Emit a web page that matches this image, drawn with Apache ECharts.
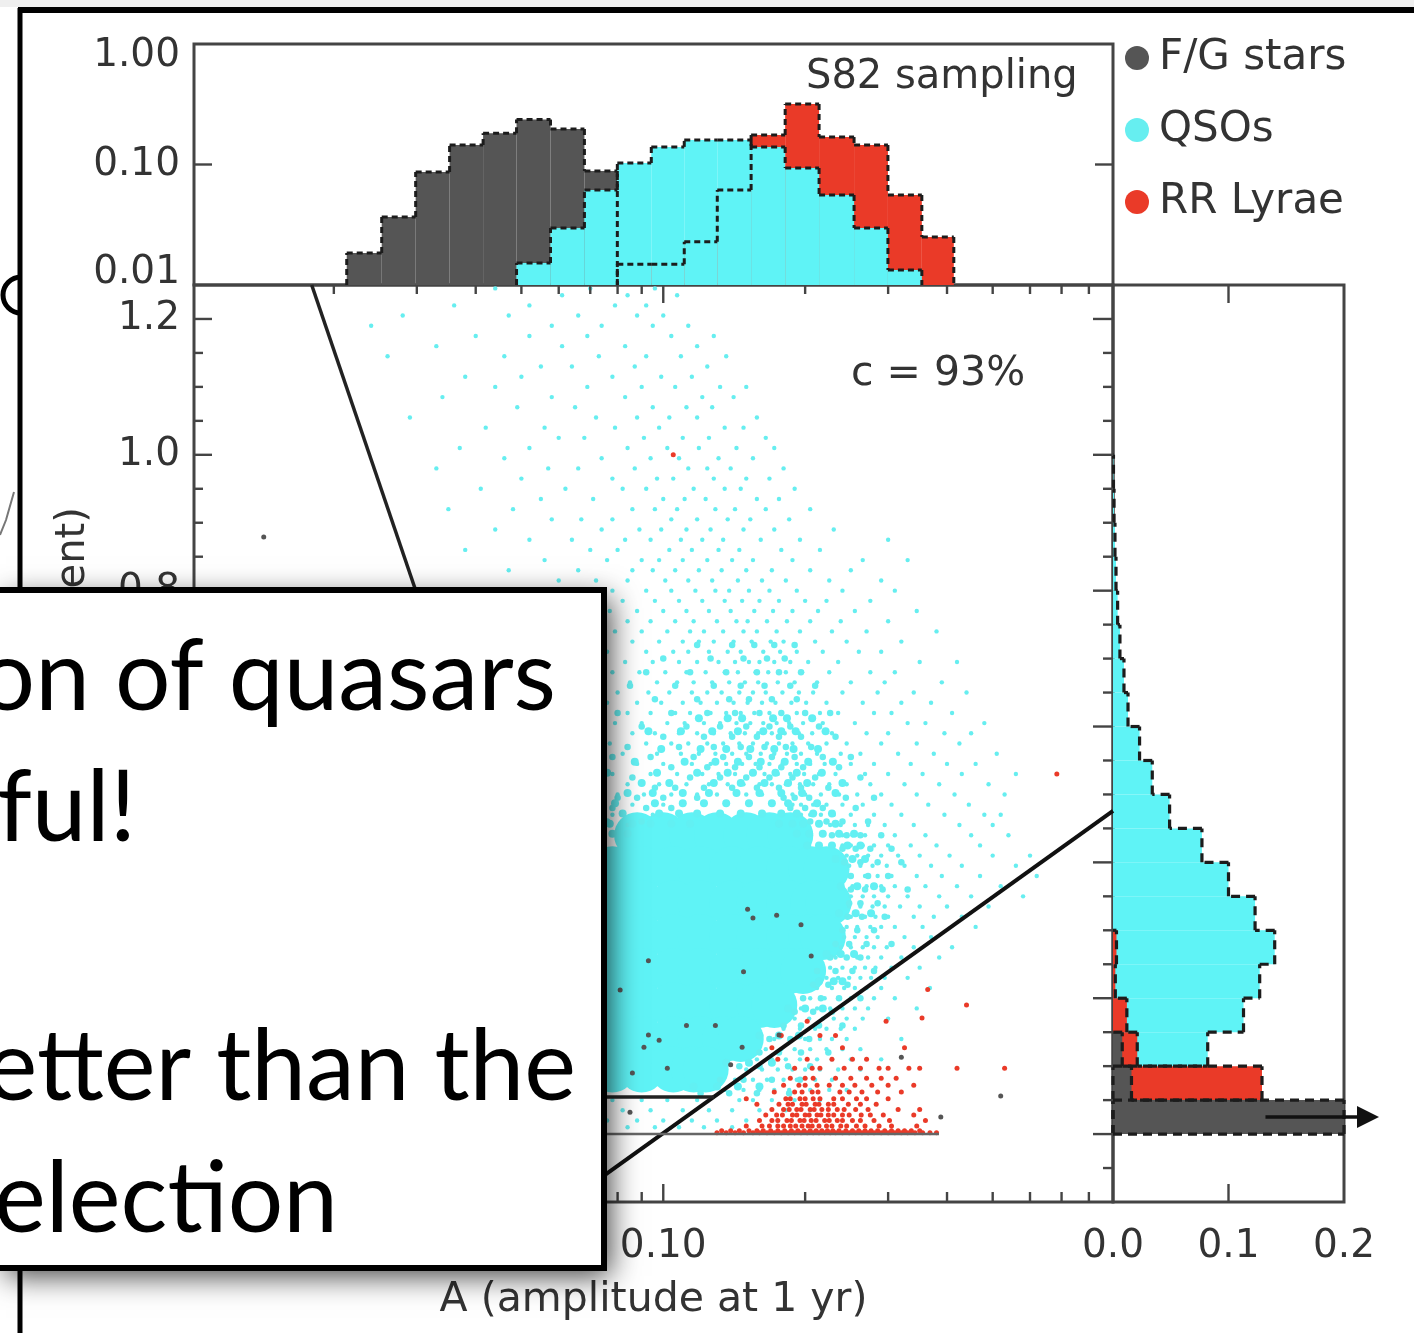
<!DOCTYPE html>
<html><head><meta charset="utf-8">
<style>html,body{margin:0;padding:0;background:#fff}#c{width:1414px;height:1333px}</style>
<script src="https://cdn.jsdelivr.net/npm/echarts@6/dist/echarts.min.js"></script></head>
<body><div id="c"></div>
<script>
// ---- histogram data ----
const topEdges=[0.0213,0.02527,0.02983,0.03521,0.04147,0.04883,0.05764,0.06803,0.0799,0.09432,0.1108,0.1302,0.1536,0.1814,0.2141,0.254,0.2997,0.3537,0.4135];
const topGray=[0.0184,0.0366,0.0867,0.145,0.182,0.236,0.197,0.0883];
const topCyan=[null,null,null,null,null,0.0152,0.0297,0.0614,0.1028,0.14,0.16,0.16,0.14,0.0935,0.0558,0.0297,0.0133];
const topRed=[null,null,null,null,null,null,null,null,0.0149,0.0149,0.0228,0.0614,0.176,0.318,0.169,0.145,0.0558,0.025];
const gammaEdges=[0,0.05,0.1,0.15,0.2,0.25,0.3,0.35,0.4,0.45,0.5,0.55,0.6,0.65,0.7,0.75,0.8,0.85,0.9,0.95,1.0];
const sideCyan=[0,0,0.082,0.113,0.127,0.14,0.123,0.1,0.077,0.049,0.034,0.023,0.013,0.0095,0.006,0.004,0.0026,0.0017,0.0009,0.0004];
const sideRed=[0,0.129,0.021,0.012,0.002,0.003];
const sideGray=[0.2,0.016,0.008];
// ---- scatter data: [gamma, [A x 1000, ...]] ----
const qsoCoreRows=[[0.44,[88,100,115,130,150,168,186]],[0.39,[78,90,105,120,140,160,185,206,222]],[0.34,[78,90,105,120,140,160,185,208,224]],[0.29,[78,90,105,120,140,160,185,206,218]],[0.24,[78,90,105,120,140,160,185,198]],[0.19,[78,90,105,120,140,160,172]],[0.14,[78,90,105,120,135,146]],[0.095,[78,90,105,116,123]]];
const qsoMidRows=[[0.72,[118,140,156,172,190]],[0.70,[100,126,148,166,181]],[0.68,[92,114,136,158,176,196]],[0.66,[85,106,128,146,164,186,210]],[0.64,[96,118,138,152,170,192]],[0.62,[80,104,124,142,160,178,200,226]],[0.60,[90,112,132,150,168,186,214]],[0.585,[100,122,140,158,176,196,232]],[0.57,[84,108,128,146,164,182,206]],[0.555,[78,94,116,134,152,170,190,218,250]],[0.54,[104,124,142,160,178,198,236]],[0.525,[86,114,132,150,168,188,210,262]],[0.51,[96,106,122,140,158,176,196,224]],[0.495,[80,88,100,118,180,190,204,244,280]],[0.48,[78,92,104,186,200,218,256]],[0.46,[76,90,205,222,240,272]],[0.44,[228,245,262,290]],[0.42,[240,256,275,305]],[0.40,[242,262,285,320]],[0.38,[250,272,300]],[0.36,[250,268,292,330]],[0.34,[248,262,285]],[0.32,[246,264,295]],[0.30,[240,258,280]],[0.28,[232,248,270,305]],[0.26,[226,245,262]],[0.24,[212,232,252,280]],[0.22,[208,224,246]],[0.20,[198,216,236,262]],[0.18,[190,208,228]],[0.16,[180,196,214,240]],[0.14,[168,186,204]],[0.12,[160,176,196,224]],[0.10,[145,160,184,205]],[0.08,[132,148,170,195]],[0.06,[120,138,158,185]]];
const qsoDenseRows=[[0.612,[119,137,147,171,183,207]],[0.593,[93,109,127,144,163,178,191,221]],[0.567,[99,120,136,153,172,189,213]],[0.548,[87,111,129,144,161,181,203,229]],[0.532,[76,97,118,137,155,173,192,217]],[0.517,[90,103,128,146,164,184,202,240]],[0.502,[84,95,110,125,143,160,178,197,232]],[0.487,[79,96,110,122,136,152,170,184,212]],[0.472,[82,98,108,118,132,146,162,178,192,208,228]],[0.457,[77,86,94,104,114,176,188,198,214,232]],[0.442,[78,84,192,204,218,236,254]],[0.425,[202,214,228,246,262]],[0.405,[232,252,268]],[0.365,[238,258,280]],[0.325,[236,256,276]],[0.265,[222,238,254]],[0.225,[214,230,240]],[0.185,[184,200,218]],[0.145,[160,176,194]],[0.105,[136,152,170]],[0.07,[116,130,144,160]]];
const qsoRows=[[1.245,[44,70,96]],[1.235,[61,84,107]],[1.22,[36,52,79,92]],[1.205,[28,47,66,88,100]],[1.19,[24,58,74,95,113]],[1.175,[40,52,69,104,128]],[1.16,[33,61,83,118]],[1.145,[26,46,73,92,109,136]],[1.13,[55,64,87,124]],[1.115,[38,50,78,99,115]],[1.10,[44,69,90,106,132,150]],[1.085,[34,58,83,121,141]],[1.07,[49,65,95,112,127]],[1.055,[29,72,88,103,118,158]],[1.04,[42,56,79,98,135,148]],[1.025,[60,68,91,110,125,165]],[1.01,[37,52,84,102,119,143,172]],[0.995,[46,74,94,108,131,155]],[0.98,[33,57,66,87,113,124,139,180]],[0.965,[50,78,97,105,128,150,168]],[0.95,[41,62,82,92,116,135,146,190]],[0.935,[55,71,100,111,123,158,176]],[0.92,[35,48,86,96,107,129,142,165,205]],[0.905,[58,67,78,104,118,137,153,185]],[0.89,[44,74,89,99,112,126,148,172,230]],[0.875,[52,64,83,94,109,121,134,161,195,300]],[0.86,[38,70,80,103,115,131,145,178,215]],[0.845,[56,76,90,98,110,124,140,155,188,265,330]],[0.83,[47,66,86,95,106,119,133,150,170,205,250]],[0.815,[60,72,84,101,113,127,144,162,182,225,290]],[0.80,[78,92,104,117,129,138,152,168,192,240,310]],[0.785,[82,96,108,121,135,147,160,176,200,222,275]],[0.77,[77,88,100,112,125,139,156,171,188,213,255,345]],[0.755,[84,94,106,116,130,143,151,166,183,205,238,300]],[0.74,[79,90,102,114,122,134,148,158,174,195,228,270,380]],[0.725,[86,98,110,119,128,141,154,169,180,210,245,320]],[0.71,[76,92,105,113,125,137,146,163,177,192,218,260,290]],[0.695,[83,95,108,118,131,142,152,160,172,186,203,235,350,420]],[0.68,[78,89,101,112,123,135,144,157,167,182,197,225,275,310]],[0.665,[85,97,107,116,127,138,149,159,175,190,212,250,295,390]],[0.65,[80,93,103,115,124,133,145,155,165,179,194,208,240,285,340,440]],[0.635,[76,88,99,110,120,130,141,151,162,173,187,201,222,265,320,370]],[0.62,[84,94,106,114,126,136,146,156,168,178,192,215,235,280,305,410]],[0.605,[79,90,102,111,122,132,143,153,163,174,185,198,218,255,330,360,480]],[0.59,[86,96,108,118,128,139,149,159,170,181,194,207,228,270,300,395,450]],[0.575,[77,92,104,113,124,134,145,155,166,176,188,203,222,245,290,345,425]],[0.56,[82,97,109,119,129,140,150,161,172,183,196,212,238,262,315,375,510]],[0.545,[88,100,115,126,136,147,157,168,179,192,205,220,250,280,335,400,460]],[0.53,[78,94,107,121,131,142,154,164,175,186,199,214,232,268,300,355,430,560]],[0.515,[84,98,112,125,137,148,160,170,182,195,208,225,245,275,325,385,490]],[0.50,[80,91,104,118,130,150,162,177,188,200,216,236,258,290,345,415,530]],[0.485,[86,100,188,196,208,222,240,265,305,365,445]],[0.47,[78,95,196,205,216,230,250,280,320,395,480,520]],[0.455,[84,215,226,238,255,272,295,340,425,500]],[0.44,[228,240,252,268,290,310,360,450,540]],[0.425,[240,250,265,280,300,335,380,470]],[0.41,[245,258,272,290,315,350,405,500,600]],[0.395,[248,262,278,298,325,370,430,560]],[0.38,[250,268,285,305,345,390,470,620]],[0.365,[252,270,290,310,360,420,520]],[0.35,[250,265,280,300,330,385,450,580]],[0.335,[248,262,278,295,318,350,400,490]],[0.32,[250,268,282,300,340,375,430]],[0.305,[245,258,275,290,310,355,460]],[0.29,[242,255,270,285,325,370]],[0.275,[238,250,265,280,298,340,410]],[0.26,[232,245,258,272,290,320,385]],[0.245,[226,240,255,268,282,305,350]],[0.23,[222,235,248,262,276,295,330]],[0.215,[212,228,242,255,270,290,368]],[0.20,[205,220,235,250,262,280,310]],[0.185,[196,212,226,240,255,272,345]],[0.17,[190,204,218,230,245,265,300]],[0.155,[180,195,210,222,238,255]],[0.14,[172,186,200,215,228,245,320]],[0.125,[165,178,190,205,222,240,262]],[0.11,[158,170,182,195,212,228,250,290]],[0.095,[150,162,175,188,200,215,235,262]],[0.08,[142,155,166,180,192,210,228]],[0.065,[135,148,160,172,185,205,225,245]],[0.05,[78,90,102,118,145,155,170,190,215]],[0.035,[82,94,110,125,140,160,182,205]],[0.02,[76,88,100,115,130,150,175]],[0.01,[84,96,108,122,140]]];
const redRows=[[0.002,[130,136,142,148,155,160,166,172,178,184,190,196,202,208,214,220,226,232,240,248,256,264,272,280,290,300,310,320,330,342,355,368,380]],[0.005,[133,139,145,152,158,163,169,175,181,187,193,199,205,211,217,223,229,236,244,252,260,268,276,285,295,305,315,325,336,350]],[0.012,[150,162,168,175,180,186,191,197,203,207,214,222,228,238,245,257,268,287,305,345]],[0.02,[160,170,175,183,187,195,199,206,211,220,225,234,240,252,262,280,302,360]],[0.028,[165,174,179,188,192,200,204,212,216,224,230,240,248,263,275,293,340]],[0.036,[170,180,185,192,196,205,209,217,224,234,242,256,272,315,350]],[0.044,[158,176,184,188,197,201,210,214,224,230,247,262,283]],[0.052,[150,182,186,195,200,208,215,230,240,257,270,300]],[0.062,[172,190,197,207,213,237,248,264,285,320]],[0.072,[180,194,200,212,225,240,255,277,300,340]],[0.082,[186,200,208,232,250,270,290,312]],[0.097,[190,207,215,242,262,287,300,332,350,420,530]],[0.11,[175,202,228,252,270]],[0.127,[170,240,325]],[0.145,[178,215,232]],[0.166,[202,297]],[0.171,[354]],[0.19,[440]],[0.213,[364]],[0.53,[684]],[1.0,[105]]];
const grayPoints=[[0.0142,0.879],[0.151,0.331],[0.155,0.318],[0.174,0.322],[0.196,0.308],[0.206,0.262],[0.093,0.255],[0.148,0.239],[0.081,0.212],[0.112,0.16],[0.129,0.16],[0.093,0.146],[0.098,0.138],[0.091,0.128],[0.147,0.128],[0.176,0.146],[0.102,0.097],[0.086,0.09],[0.139,0.102],[0.32,0.113],[0.52,0.056],[0.388,0.025],[0.085,0.032]];
// ---- boundary lines ----
const cutSteep=[[0.01795,1.25],[0.0693,0.0545]];
const cutSlope=[[0.0732,-0.066],[0.9,0.4757]];
const cutLow=[[0.0693,0.0545],[0.1282,0.0545]];
const cutZero=[[0.05,0],[0.3846,0]];
const arrow=[[0.132,0.025,0.222]];
const arrowHead=[[0.2208,0.025]];
// ---- ticks ----
const xMajor=[0.1];
const xMinor=[0.02,0.03,0.04,0.05,0.06,0.07,0.08,0.09,0.2,0.3,0.4,0.5,0.6,0.7,0.8];
const gMajor=[0,0.2,0.4,0.6,0.8,1.0,1.2];
const gMinor=[-0.05,0.05,0.1,0.15,0.25,0.3,0.35,0.45,0.5,0.55,0.65,0.7,0.75,0.85,0.9,0.95,1.05,1.1,1.15];
const topLabels=[0.01,0.1,1];
const gammaLabels=[0,0.2,0.4,0.6,0.8,1.0,1.2];
const sideLabels=[0,0.1,0.2];
const boxLines=[['tion of quasars',556,678],['erful!',136,809],['better than the',576,1068],['selection',338,1200]];

const XMIN=0.0101,XMAX=0.9,GMIN=-0.1,GMAX=1.25;
const C={gray:'#555555',cyan:'#5ff3f6',red:'#ea3a28',ink:'#333333'};
const FONT='"DejaVu Sans"';

function expand(rows){const o=[];rows.forEach(r=>r[1].forEach(a=>o.push([a/1000,r[0]])));return o;}
function bins(edges,vals){const o=[];let prev=null;vals.forEach((v,i)=>{if(v==null)return;o.push([edges[i],edges[i+1],v,prev==null?v:prev]);prev=v;});return o;}
function fillR(horiz,base){return (p,api)=>{const lo=api.value(0),hi=api.value(1),v=api.value(2);
 const a=horiz?api.coord([base,lo]):api.coord([lo,base]),b=horiz?api.coord([v,hi]):api.coord([hi,v]);
 return {type:'rect',shape:{x:Math.min(a[0],b[0]),y:Math.min(a[1],b[1]),width:Math.abs(b[0]-a[0]),height:Math.abs(b[1]-a[1])},style:{fill:api.visual('color')}};};}
function edgeR(horiz,base,n){return (p,api)=>{const lo=api.value(0),hi=api.value(1),v=api.value(2),pv=api.value(3);
 const P=(e,u)=>horiz?api.coord([u,e]):api.coord([e,u]);
 const st=horiz?{stroke:'#1c1c1c',lineWidth:3.2,lineDash:[9,6],fill:null}:{stroke:'#1c1c1c',lineWidth:3,lineDash:[6,4],fill:null};
 const seg=(a,b)=>({type:'line',shape:{x1:a[0],y1:a[1],x2:b[0],y2:b[1]},style:st});
 const ch=[seg(P(lo,v),P(hi,v)),seg(P(lo,p.dataIndex===0?base:pv),P(lo,v))];
 if(p.dataIndex===n-1)ch.push(seg(P(hi,v),P(hi,base)));
 return {type:'group',children:ch};};}
function hist(name,xi,yi,edges,vals,color,z,horiz,base){const d=bins(edges,vals);
 return {name:name,type:'custom',xAxisIndex:xi,yAxisIndex:yi,data:d,renderItem:fillR(horiz,base),itemStyle:{color:color},z:z,silent:true,animation:false};}
function histEdge(name,xi,yi,edges,vals,z,horiz,base){const d=bins(edges,vals);
 return {name:name,type:'custom',xAxisIndex:xi,yAxisIndex:yi,data:d,renderItem:edgeR(horiz,base,d.length),z:z,silent:true,animation:false};}
function ticks(xi,yi,pts,dx,dy){return {type:'custom',xAxisIndex:xi,yAxisIndex:yi,data:pts,z:8,silent:true,animation:false,
 renderItem:(p,api)=>{const c=api.coord([api.value(0),api.value(1)]);return {type:'line',shape:{x1:c[0],y1:c[1],x2:c[0]+dx,y2:c[1]+dy},style:{stroke:'#444',lineWidth:2.4}};}};}
function line(d,w,col,extra){return Object.assign({type:'line',xAxisIndex:1,yAxisIndex:1,data:d,symbol:'none',clip:false,lineStyle:{color:col,width:w},z:6,silent:true,animation:false},extra||{});}
function dots(name,d,size,color,z){return {name:name,type:'scatter',xAxisIndex:1,yAxisIndex:1,data:d,symbolSize:size,itemStyle:{color:color,opacity:1},z:z,silent:true,animation:false};}
const axLbl=(o)=>Object.assign({color:C.ink,fontFamily:FONT,fontSize:39},o);
const none={axisLine:{show:false},axisTick:{show:false},splitLine:{show:false},minorTick:{show:false}};

const option={
 backgroundColor:'#fff',animation:false,
 legend:{orient:'vertical',left:1120,top:32,itemWidth:34,itemHeight:24,itemGap:30,icon:'circle',selectedMode:false,
  data:['F/G stars','QSOs','RR Lyrae'],textStyle:{fontFamily:FONT,fontSize:42,color:C.ink}},
 grid:[
  {left:194,top:44,width:919,height:241,show:true,borderColor:'#444',borderWidth:3,backgroundColor:'transparent'},
  {left:194,top:285,width:919,height:917,show:true,borderColor:'#444',borderWidth:3,backgroundColor:'transparent'},
  {left:1113,top:285,width:231,height:917,show:true,borderColor:'#444',borderWidth:3,backgroundColor:'transparent'}],
 xAxis:[
  Object.assign({type:'log',gridIndex:0,min:XMIN,max:XMAX,axisLabel:{show:false}},none),
  Object.assign({type:'log',gridIndex:1,min:XMIN,max:XMAX,name:'A (amplitude at 1 yr)',nameLocation:'middle',nameGap:78,
   nameTextStyle:{color:C.ink,fontFamily:FONT,fontSize:41},
   axisLabel:axLbl({margin:25,customValues:[0.1],formatter:v=>Number(v).toFixed(2)})},none),
  Object.assign({type:'value',gridIndex:2,min:0,max:0.2,axisLabel:axLbl({margin:25,customValues:sideLabels,formatter:v=>Number(v).toFixed(1)})},none)],
 yAxis:[
  Object.assign({type:'log',gridIndex:0,min:0.01,max:1,axisLabel:axLbl({margin:14,lineHeight:24,customValues:topLabels,verticalAlignMinLabel:'bottom',verticalAlignMaxLabel:'top',formatter:v=>Number(v).toFixed(2)})},none),
  Object.assign({type:'value',gridIndex:1,min:GMIN,max:GMAX,name:'\u03b3 (power-law exponent)',nameLocation:'middle',nameGap:100,nameRotate:90,
   nameTextStyle:{color:C.ink,fontFamily:FONT,fontSize:40},
   axisLabel:axLbl({margin:14,customValues:gammaLabels,formatter:v=>Number(v).toFixed(1)})},none),
  Object.assign({type:'value',gridIndex:2,min:GMIN,max:GMAX,axisLabel:{show:false}},none)],
 series:[
  dots('F/G stars',grayPoints.map(p=>[p[0],p[1]]),5,'#555',5),
  dots('QSOs',expand(qsoRows),4.4,'#66eef0',3),
  dots('QSO mid',expand(qsoMidRows),6.5,'#66eef0',3),
  dots('QSO dense',expand(qsoDenseRows),8,'#62f0f3',3),
  dots('RR Lyrae',expand(redRows),5,C.red,4),
  dots('QSO core',expand(qsoCoreRows),46,C.cyan,2),
  hist('top gray',0,0,topEdges,topGray,C.gray,2,false,0.01),
  hist('top red',0,0,topEdges,topRed,C.red,3,false,0.01),
  hist('top cyan',0,0,topEdges,topCyan,C.cyan,4,false,0.01),
  histEdge('top gray edge',0,0,topEdges,topGray,5,false,0.01),
  histEdge('top red edge',0,0,topEdges,topRed,5,false,0.01),
  histEdge('top cyan edge',0,0,topEdges,topCyan,5,false,0.01),
  hist('side cyan',2,2,gammaEdges,sideCyan,C.cyan,2,true,0),
  hist('side red',2,2,gammaEdges,sideRed,C.red,3,true,0),
  hist('side gray',2,2,gammaEdges,sideGray,C.gray,4,true,0),
  histEdge('side cyan edge',2,2,gammaEdges,sideCyan.slice(0,20),5,true,0),
  histEdge('side red edge',2,2,gammaEdges,sideRed,5,true,0),
  histEdge('side gray edge',2,2,gammaEdges,sideGray,5,true,0),
  line(cutSteep,3.5,'#222'),line(cutSlope,4,'#111'),line(cutLow,3.5,'#222'),line(cutZero,2.5,'#666'),
  {type:'custom',xAxisIndex:2,yAxisIndex:2,data:arrow,z:9,silent:true,animation:false,renderItem:(p,api)=>{const a=api.coord([api.value(0),api.value(1)]),b=api.coord([api.value(2),api.value(1)]);return {type:'line',shape:{x1:a[0],y1:a[1],x2:b[0],y2:b[1]},style:{stroke:'#111',lineWidth:3.5}};}},
  {type:'scatter',xAxisIndex:2,yAxisIndex:2,data:arrowHead,symbol:'triangle',symbolSize:[22,22],symbolRotate:-90,clip:false,itemStyle:{color:'#111',opacity:1},z:9,silent:true,animation:false},
  ticks(1,1,xMajor.map(v=>[v,GMIN]),0,-18),ticks(1,1,xMinor.map(v=>[v,GMIN]),0,-10),
  ticks(1,1,xMajor.map(v=>[v,GMAX]),0,18),ticks(1,1,xMinor.map(v=>[v,GMAX]),0,9),
  ticks(1,1,gMajor.map(v=>[XMIN,v]),18,0),ticks(1,1,gMinor.map(v=>[XMIN,v]),9,0),
  ticks(1,1,gMajor.map(v=>[XMAX,v]),-20,0),ticks(1,1,gMinor.map(v=>[XMAX,v]),-10,0),
  ticks(0,0,[[XMIN,0.1]],18,0),ticks(0,0,[[XMAX,0.1]],-18,0),
  ticks(2,2,[[0.1,GMIN]],0,-18),ticks(2,2,[[0.1,GMAX]],0,18)
 ],
 graphic:[
  {type:'rect',z:200,silent:true,shape:{x:0,y:0,width:1414,height:7},style:{fill:'#efefef'}},
  {type:'line',z:200,silent:true,shape:{x1:18,y1:10,x2:1414,y2:10},style:{stroke:'#000',lineWidth:6}},
  {type:'line',z:200,silent:true,shape:{x1:20,y1:8,x2:20,y2:1333},style:{stroke:'#000',lineWidth:5}},
  {type:'arc',z:200,silent:true,shape:{cx:21,cy:295,r:18,startAngle:Math.PI/2,endAngle:Math.PI*1.5,clockwise:true},style:{stroke:'#000',lineWidth:5,fill:null}},
  {type:'polyline',z:200,silent:true,shape:{points:[[0,535],[6,520],[14,492]]},style:{stroke:'#777',lineWidth:2,fill:null}},
  {type:'text',z:200,silent:true,style:{x:806,y:58,text:'S82 sampling',font:'40px '+FONT,fill:C.ink}},
  {type:'text',z:200,silent:true,style:{x:851,y:354,text:'c = 93%',font:'41px '+FONT,fill:C.ink}},
  {type:'rect',z:300,silent:true,shape:{x:0,y:590,width:604,height:678},style:{fill:'#fff',shadowBlur:28,shadowOffsetX:6,shadowOffsetY:8,shadowColor:'rgba(0,0,0,0.75)'}},
  {type:'polyline',z:301,silent:true,shape:{points:[[0,590],[604,590],[604,1268],[0,1268]]},style:{stroke:'#000',lineWidth:6,fill:null}}
 ].concat(boxLines.map(l=>({type:'text',z:302,silent:true,style:{x:l[1],y:l[2],text:l[0],textAlign:'right',textVerticalAlign:'middle',font:'98px Lato',fill:'#000'}})))
};
const chart=echarts.init(document.getElementById('c'),null,{renderer:'canvas',width:1414,height:1333});
chart.setOption(option);
</script></body></html>
